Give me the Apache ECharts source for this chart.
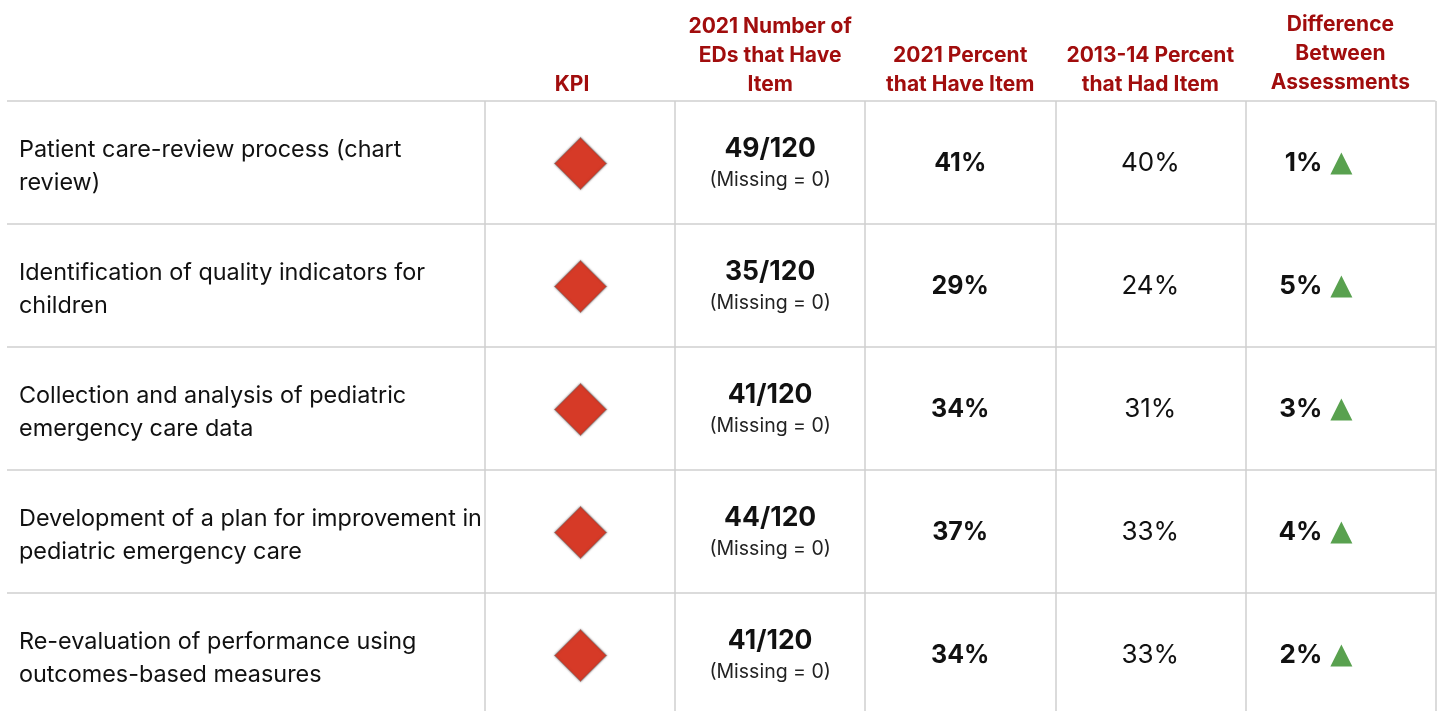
<!DOCTYPE html>
<html>
<head>
<meta charset="utf-8">
<style>
  html, body { margin: 0; padding: 0; background: #fff; }
  #chart { width: 1438px; height: 711px; }
</style>
<script src="https://cdn.jsdelivr.net/npm/echarts@6/dist/echarts.min.js"></script>
</head>
<body>
<div id="chart"></div>
<script>
const items = [
    'Patient care-review process (chart\nreview)',
    'Identification of quality indicators for\nchildren',
    'Collection and analysis of pediatric\nemergency care data',
    'Development of a plan for improvement in\npediatric emergency care',
    'Re-evaluation of performance using\noutcomes-based measures'
]
const columns = [
    'KPI',
    '2021 Number of\nEDs that Have\nItem',
    '2021 Percent\nthat Have Item',
    '2013-14 Percent\nthat Had Item',
    'Difference\nBetween\nAssessments'
]
const edsWithItem = [49, 35, 41, 44, 41]
const edsTotal = [120, 120, 120, 120, 120]
const edsMissing = [0, 0, 0, 0, 0]
const pct2021 = [41, 29, 34, 37, 34]
const pct2013 = [40, 24, 31, 33, 33]
const pctDiff = [1, 5, 3, 4, 2]

const FONT = 'Inter, sans-serif'
const GRID_LINE = '#cfcfcf'
const HEADER_RED = '#a10d0d'

// one point per row, sitting in the given column
const inColumn = (col) => items.map((_, row) => [col, row])

// scatter series that only carries a text label
const textSeries = (name, col, label) => ({
    name,
    type: 'scatter',
    xAxisIndex: 1,
    yAxisIndex: 1,
    symbolSize: 1,
    itemStyle: { color: 'transparent', opacity: 1 },
    label: Object.assign({ show: true, position: 'inside', fontFamily: FONT, color: '#111', opacity: 1 }, label),
    data: inColumn(col)
})

const chart = echarts.init(document.getElementById('chart'))

chart.setOption({
    animation: false,
    backgroundColor: '#fff',
    textStyle: { fontFamily: FONT },
    grid: [
        { left: 7, top: 101, width: 478, height: 615, outerBoundsMode: 'none' },
        { left: 485.02, top: 101, width: 950.4, height: 615, outerBoundsMode: 'none' }
    ],
    xAxis: [
        { gridIndex: 0, type: 'category', data: [''], show: false },
        {
            gridIndex: 1,
            type: 'category',
            position: 'top',
            data: columns.map((name, i) => {
                // KPI sits a bit left of its column, the last header a bit higher
                if (i === 0) return { value: name, textStyle: { padding: [0, 16, 0, 0] } }
                if (i === 4) return { value: name, textStyle: { padding: [0, 0, 2, 0] } }
                return name
            }),
            axisLine: { show: false },
            axisTick: { show: false },
            axisLabel: {
                interval: 0,
                margin: 2,
                color: HEADER_RED,
                fontFamily: FONT,
                fontWeight: 'bold',
                fontSize: 21,
                lineHeight: 29
            },
            splitLine: { show: true, lineStyle: { color: GRID_LINE, width: 1.5 } }
        }
    ],
    yAxis: [
        {
            gridIndex: 0,
            type: 'category',
            inverse: true,
            data: items,
            axisLine: { show: false },
            axisTick: { show: false },
            axisLabel: {
                inside: true,
                margin: 12,
                // rich text so the two lines can sit a little below the row centre
                formatter: (value) => value.split('\n').map((line) => `{line|${line}}`).join('\n'),
                rich: {
                    line: { fontFamily: FONT, fontSize: 23.4, color: '#111', lineHeight: 33, padding: [7, 0, 0, 0] }
                }
            },
            splitLine: { show: true, lineStyle: { color: GRID_LINE, width: 1.5 } }
        },
        {
            gridIndex: 1,
            type: 'category',
            inverse: true,
            data: items,
            axisLine: { show: false },
            axisTick: { show: false },
            axisLabel: { show: false },
            splitLine: { show: true, lineStyle: { color: GRID_LINE, width: 1.5 } }
        }
    ],
    series: [
        {
            name: 'KPI',
            type: 'scatter',
            xAxisIndex: 1,
            yAxisIndex: 1,
            symbol: 'diamond',
            symbolSize: 52,
            symbolOffset: [0.5, 1],
            itemStyle: {
                color: '#d63a27',
                borderColor: '#a0807c',
                borderWidth: 1,
                shadowBlur: 2,
                shadowColor: 'rgba(90,70,70,0.6)',
                opacity: 1
            },
            data: inColumn(0)
        },
        textSeries('Number of EDs', 1, {
            offset: [0, 2],
            formatter: (p) => `{n|${edsWithItem[p.dataIndex]}/${edsTotal[p.dataIndex]}}\n{m|(Missing = ${edsMissing[p.dataIndex]})}`,
            rich: {
                n: { fontFamily: FONT, fontSize: 26.5, fontWeight: 'bold', color: '#111', lineHeight: 32 },
                m: { fontFamily: FONT, fontSize: 19.5, color: '#222', lineHeight: 30 }
            }
        }),
        textSeries('2021 Percent', 2, {
            offset: [0, 1],
            formatter: (p) => pct2021[p.dataIndex] + '%',
            fontSize: 25,
            fontWeight: 'bold'
        }),
        textSeries('2013-14 Percent', 3, {
            offset: [0, 1],
            formatter: (p) => pct2013[p.dataIndex] + '%',
            fontSize: 26
        }),
        {
            name: 'Difference',
            type: 'scatter',
            xAxisIndex: 1,
            yAxisIndex: 1,
            symbol: 'triangle',
            symbolSize: [22, 22],
            symbolOffset: [1, 1],
            itemStyle: { color: '#59a14f', opacity: 1 },
            label: {
                show: true,
                position: 'left',
                distance: 8,
                formatter: (p) => pctDiff[p.dataIndex] + '%',
                fontFamily: FONT,
                fontSize: 26,
                fontWeight: 'bold',
                color: '#111',
                opacity: 1
            },
            data: inColumn(4)
        }
    ]
})
</script>
</body>
</html>
